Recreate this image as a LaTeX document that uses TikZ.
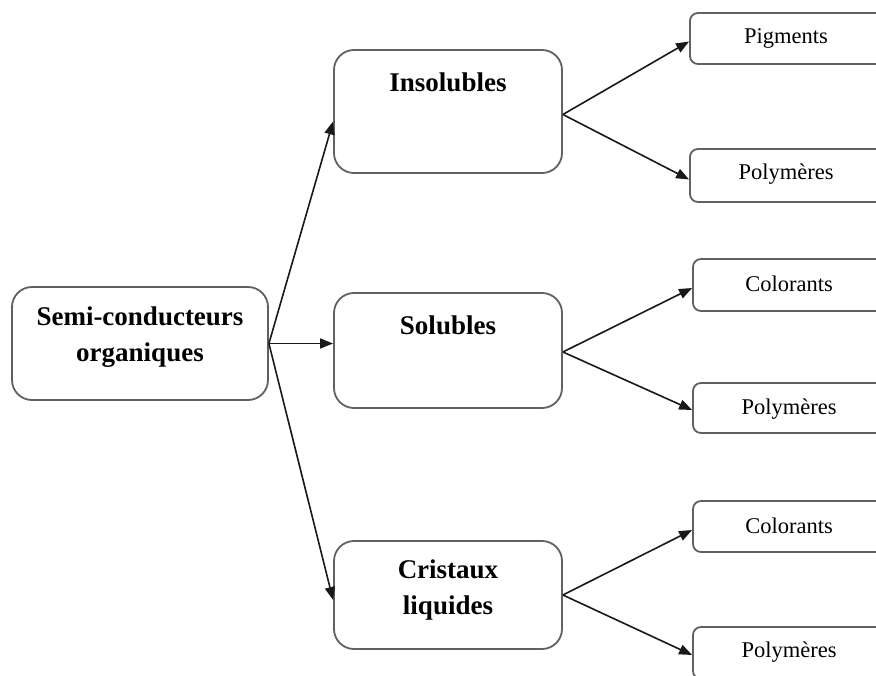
\documentclass[tikz,border=0pt]{standalone}
\usepackage{fontspec}
\setmainfont{Liberation Serif}
\usetikzlibrary{arrows.meta}
\begin{document}
\begin{tikzpicture}[x=1pt,y=-1pt,
  bigbox/.style={draw=black!62, line width=1.8pt, rounded corners=20pt, inner sep=0pt},
  smallbox/.style={draw=black!62, line width=1.8pt, rounded corners=8pt, inner sep=0pt, minimum width=194pt},
  bigtxt/.style={font=\fontsize{27}{36}\selectfont\bfseries, align=center, inner sep=0pt},
  smalltxt/.style={font=\fontsize{22.5}{27}\selectfont, inner sep=0pt},
  arr/.style={draw=black!90, line width=1.6pt, -{Triangle[length=13pt,width=10pt]}}]
\useasboundingbox (0,0) rectangle (876,676);
\clip (0,0) rectangle (876,676);
\fill[white] (0,0) rectangle (876,676);
% main boxes
\node[bigbox, minimum width=256pt, minimum height=113pt] (root) at (140,343.5) {};
\node[bigbox, minimum width=228pt, minimum height=123pt] (ins) at (448,111.5) {};
\node[bigbox, minimum width=228pt, minimum height=115pt] (sol) at (448,350.5) {};
\node[bigbox, minimum width=228pt, minimum height=108pt] (cri) at (448,595) {};
% right boxes
\node[smallbox, minimum height=51pt] (pig) at (787,38.5) {};
\node[smallbox, minimum height=53pt] (po1) at (787,175.5) {};
\node[smallbox, minimum height=52pt] (co2) at (790,285) {};
\node[smallbox, minimum height=50pt] (po2) at (790,408) {};
\node[smallbox, minimum height=51pt] (co3) at (790,526.5) {};
\node[smallbox, minimum height=52pt] (po3) at (790,653) {};
% texts
\node[bigtxt] (troot) at (140,337) {Semi-conducteurs\\organiques};
\node[bigtxt] (tins) at (448,82) {Insolubles};
\node[bigtxt] (tsol) at (448,325) {Solubles};
\node[bigtxt] (tcri) at (448,590) {Cristaux\\liquides};
\node[smalltxt] (tpig) at (786,38) {Pigments};
\node[smalltxt] (tpo1) at (786,174) {Polymères};
\node[smalltxt] (tco2) at (789,284) {Colorants};
\node[smalltxt] (tpo2) at (789,409) {Polymères};
\node[smalltxt] (tco3) at (789,526) {Colorants};
\node[smalltxt] (tpo3) at (789,652) {Polymères};
% connectors
\draw[arr] (root.east) -- ([yshift=-10pt]ins.west);
\draw[arr] (root.east) -- (root.east -| sol.west);
\draw[arr] (root.east) -- ([yshift=-5pt]cri.west);
\draw[arr] ([yshift=-3pt]ins.east) -- ([yshift=-3pt]pig.west);
\draw[arr] ([yshift=-3pt]ins.east) -- ([yshift=-4pt]po1.west);
\draw[arr] ([yshift=-1.5pt]sol.east) -- ([yshift=-3pt]co2.west);
\draw[arr] ([yshift=-1.5pt]sol.east) -- ([yshift=-2pt]po2.west);
\draw[arr] (cri.east) -- ([yshift=-3.5pt]co3.west);
\draw[arr] (cri.east) -- ([yshift=-2pt]po3.west);
\end{tikzpicture}
\end{document}
